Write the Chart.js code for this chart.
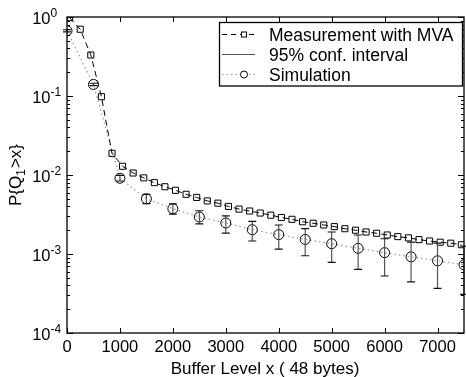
<!DOCTYPE html>
<html>
<head>
<meta charset="utf-8">
<script src="https://cdn.jsdelivr.net/npm/chart.js@4.4.0/dist/chart.umd.min.js"></script>
<style>
  html, body { margin: 0; padding: 0; overflow: hidden; background: #fff; }
  #wrap { width: 470px; height: 377px; }
</style>
</head>
<body>
<div id="wrap"><canvas id="queueChart"></canvas></div>
<script>
// measurement with MVA (squares, dashed)
const measX = [50, 250, 450, 650, 850, 1050, 1250, 1450, 1650, 1850, 2050, 2250, 2450, 2650,
  2850, 3050, 3250, 3450, 3650, 3850, 4050, 4250, 4450, 4650, 4850, 5050, 5250, 5450,
  5650, 5850, 6050, 6250, 6450, 6650, 6850, 7050, 7250, 7450];
const measY = [0.98, 0.70, 0.33, 0.098, 0.0188, 0.0129, 0.0106, 0.0092, 0.0080, 0.0071, 0.0064,
  0.0057, 0.0052, 0.0047, 0.0044, 0.0040, 0.0037, 0.0035, 0.0033, 0.0031, 0.0029, 0.00275,
  0.00256, 0.00245, 0.00233, 0.00222, 0.00209, 0.0020, 0.0019, 0.00183, 0.00174, 0.00166,
  0.0016, 0.00152, 0.00146, 0.00141, 0.00137, 0.00131];

// simulation (circles, dotted) + 95% confidence interval
const simX = [0, 500, 1000, 1500, 2000, 2500, 3000, 3500, 4000, 4500, 5000, 5500, 6000, 6500, 7000, 7500];
const simY = [0.67, 0.14, 0.0091, 0.0050, 0.00374, 0.00294, 0.00247, 0.00203, 0.00176, 0.00153,
  0.00135, 0.00118, 0.00104, 0.00092, 0.00082, 0.00073];
const simHi = [0.69, 0.145, 0.0099, 0.0057, 0.0043, 0.00353, 0.00303, 0.00259, 0.00233, 0.00209,
  0.0019, 0.00174, 0.00156, 0.00141, 0.00137, 0.00126];
const simLo = [0.65, 0.135, 0.0084, 0.00433, 0.0032, 0.0024, 0.00184, 0.00146, 0.00115, 0.00095,
  0.000785, 0.00064, 0.000527, 0.000443, 0.000368, 0.000309];

const xTicks = [0, 1000, 2000, 3000, 4000, 5000, 6000, 7000];
const yDecades = [0, -1, -2, -3, -4];
const legendLabels = ['Measurement with MVA', '95% conf. interval', 'Simulation'];

const FONT = '"Liberation Sans", Arial, Helvetica, sans-serif';

function drawSquare(ctx, x, y, s) {
  ctx.strokeRect(x - s / 2, y - s / 2, s, s);
}

const errorBars = {
  id: 'errorBars',
  afterDatasetsDraw(chart) {
    const ctx = chart.ctx;
    const xs = chart.scales.x, ys = chart.scales.y;
    ctx.save();
    ctx.lineWidth = 1.2;
    for (let i = 0; i < simX.length; i++) {
      const px = xs.getPixelForValue(simX[i]);
      const top = ys.getPixelForValue(simHi[i]);
      const bot = ys.getPixelForValue(simLo[i]);
      ctx.strokeStyle = '#555';
      ctx.beginPath();
      ctx.moveTo(px, top);
      ctx.lineTo(px, bot);
      ctx.stroke();
      ctx.strokeStyle = '#111';
      ctx.beginPath();
      ctx.moveTo(px - 4, top); ctx.lineTo(px + 4, top);
      ctx.moveTo(px - 4, bot); ctx.lineTo(px + 4, bot);
      ctx.stroke();
    }
    ctx.restore();
  }
};

const frame = {
  id: 'frame',
  afterDraw(chart) {
    const ctx = chart.ctx;
    const a = chart.chartArea;
    const xs = chart.scales.x, ys = chart.scales.y;
    ctx.save();
    ctx.strokeStyle = '#000';
    ctx.lineWidth = 1.3;
    ctx.strokeRect(a.left, a.top, a.right - a.left, a.bottom - a.top);

    // x ticks (inward, bottom and top)
    ctx.lineWidth = 1;
    ctx.beginPath();
    xTicks.forEach(v => {
      const px = Math.round(xs.getPixelForValue(v)) + 0.5;
      ctx.moveTo(px, a.bottom); ctx.lineTo(px, a.bottom - 5);
      ctx.moveTo(px, a.top); ctx.lineTo(px, a.top + 5);
    });
    // y ticks, major and minor, left and right
    yDecades.forEach(d => {
      const py = Math.round(ys.getPixelForValue(Math.pow(10, d))) + 0.5;
      ctx.moveTo(a.left, py); ctx.lineTo(a.left + 6, py);
      ctx.moveTo(a.right, py); ctx.lineTo(a.right - 6, py);
      if (d > -4) {
        for (let m = 2; m <= 9; m++) {
          const pm = Math.round(ys.getPixelForValue(m * Math.pow(10, d - 1))) + 0.5;
          ctx.moveTo(a.left, pm); ctx.lineTo(a.left + 3, pm);
          ctx.moveTo(a.right, pm); ctx.lineTo(a.right - 3, pm);
        }
      }
    });
    ctx.stroke();

    // x tick labels
    ctx.fillStyle = '#000';
    ctx.font = '16.5px ' + FONT;
    ctx.textAlign = 'center';
    ctx.textBaseline = 'alphabetic';
    xTicks.forEach(v => ctx.fillText(String(v), xs.getPixelForValue(v), 351.5));
    ctx.font = '17px ' + FONT;
    ctx.fillText('Buffer Level x ( 48 bytes)', (a.left + a.right) / 2 - 0.5, 374);

    // y tick labels 10^d
    yDecades.forEach(d => {
      const py = ys.getPixelForValue(Math.pow(10, d));
      ctx.font = '16.5px ' + FONT;
      ctx.textAlign = 'right';
      ctx.fillText('10', 50.5, py + 7);
      ctx.font = '12px ' + FONT;
      ctx.textAlign = 'left';
      ctx.fillText(d === 0 ? '0' : '-' + (-d), 50.5, py - 0.5);
    });

    // y axis title P{Q1>x}
    ctx.save();
    ctx.translate(20.5, 175);
    ctx.rotate(-Math.PI / 2);
    ctx.textAlign = 'left';
    const big = '17px ' + FONT, small = '12px ' + FONT;
    ctx.font = big;
    const w1 = ctx.measureText('P{Q').width;
    const w3 = ctx.measureText('>x}').width;
    ctx.font = small;
    const w2 = ctx.measureText('1').width + 1;
    let x0 = -(w1 + w2 + w3) / 2;
    ctx.font = big;
    ctx.fillText('P{Q', x0, 0);
    ctx.font = small;
    ctx.fillText('1', x0 + w1, 4);
    ctx.font = big;
    ctx.fillText('>x}', x0 + w1 + w2, 0);
    ctx.restore();

    // legend
    const lx = 219.5, ly = 22.5, lw = 243, lh = 63.5;
    ctx.fillStyle = '#fff';
    ctx.fillRect(lx, ly, lw, lh);
    ctx.lineWidth = 1.3;
    ctx.strokeStyle = '#000';
    ctx.strokeRect(lx, ly, lw, lh);
    const rows = [34.5, 54.5, 74.5];
    // row 1: dashed black with square
    ctx.lineWidth = 1;
    ctx.setLineDash([5, 4]);
    ctx.beginPath(); ctx.moveTo(222, rows[0]); ctx.lineTo(255, rows[0]); ctx.stroke();
    ctx.setLineDash([]);
    ctx.fillStyle = '#fff';
    ctx.fillRect(241, rows[0] - 3, 6, 6);
    drawSquare(ctx, 244, rows[0], 5);
    // row 2: solid grey
    ctx.strokeStyle = '#555';
    ctx.lineWidth = 1.2;
    ctx.beginPath(); ctx.moveTo(222, rows[1]); ctx.lineTo(255, rows[1]); ctx.stroke();
    // row 3: dotted grey with circle
    ctx.strokeStyle = '#999';
    ctx.setLineDash([1.5, 3]);
    ctx.beginPath(); ctx.moveTo(222, rows[2]); ctx.lineTo(255, rows[2]); ctx.stroke();
    ctx.setLineDash([]);
    ctx.fillStyle = '#fff';
    ctx.beginPath(); ctx.arc(244, rows[2], 4.5, 0, Math.PI * 2); ctx.fill();
    ctx.strokeStyle = '#000';
    ctx.lineWidth = 1;
    ctx.beginPath(); ctx.arc(244, rows[2], 3.5, 0, Math.PI * 2); ctx.stroke();
    ctx.fillStyle = '#000';
    ctx.font = '17.5px ' + FONT;
    ctx.textAlign = 'left';
    legendLabels.forEach((t, i) => ctx.fillText(t, 269, rows[i] + 6.3));
    ctx.restore();
  }
};

const ctx = document.getElementById('queueChart').getContext('2d');
new Chart(ctx, {
  type: 'line',
  data: {
    datasets: [
      {
        label: legendLabels[0],
        data: measX.map((x, i) => ({ x: x, y: measY[i] })),
        borderColor: '#000',
        borderWidth: 1,
        borderDash: [6, 4],
        pointStyle: 'rect',
        pointRadius: 4.3,
        pointBorderWidth: 1,
        pointBorderColor: '#000',
        pointBackgroundColor: 'rgba(255,255,255,0)',
        tension: 0
      },
      {
        label: legendLabels[2],
        data: simX.map((x, i) => ({ x: x, y: simY[i] })),
        borderColor: '#999',
        borderWidth: 1.2,
        borderDash: [1.5, 3],
        pointStyle: 'circle',
        pointRadius: 5,
        pointBorderWidth: 1,
        pointBorderColor: '#000',
        pointBackgroundColor: 'rgba(255,255,255,0)',
        tension: 0
      }
    ]
  },
  options: {
    responsive: true,
    maintainAspectRatio: false,
    animation: false,
    layout: { padding: { left: 67, top: 17, right: 1, bottom: 44 } },
    plugins: {
      legend: { display: false },
      tooltip: { enabled: false }
    },
    scales: {
      x: { type: 'linear', min: 0, max: 7500, display: false },
      y: { type: 'logarithmic', min: 1e-4, max: 1, display: false }
    }
  },
  plugins: [errorBars, frame]
});
</script>
</body>
</html>
